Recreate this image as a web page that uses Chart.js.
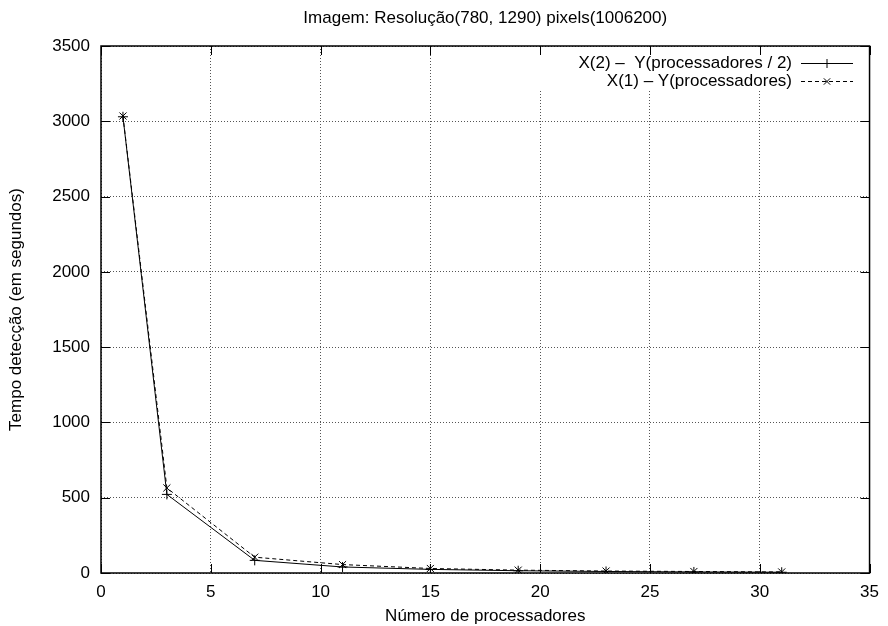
<!DOCTYPE html>
<html>
<head>
<meta charset="utf-8">
<script src="https://cdn.jsdelivr.net/npm/chart.js@4"></script>
<style>
  html, body { margin: 0; padding: 0; background: #fff; }
  #wrap { width: 888px; height: 626px; }
</style>
</head>
<body>
<div id="wrap"><canvas id="chart" width="888" height="626"></canvas></div>
<script>
// values
const processors = [1, 3, 7, 11, 15, 19, 23, 27, 31];
const timeHalf = [3030, 522, 84, 40, 24, 15, 10, 7, 5];     // X(2) - Y(processadores / 2)
const timeFull = [3035, 565, 105, 56, 30, 19, 13, 10, 7];   // X(1) - Y(processadores)
const xTicks = [0, 5, 10, 15, 20, 25, 30, 35];
const yTicks = [0, 500, 1000, 1500, 2000, 2500, 3000, 3500];

const titleText = 'Imagem: Resolução(780, 1290) pixels(1006200)';
const seriesLabels = ['X(2) \u2013  Y(processadores / 2)', 'X(1) \u2013 Y(processadores)'];
const FONT = '"Liberation Sans", Arial, sans-serif';
const FS = 17;

const toPoints = ys => processors.map((x, i) => ({ x: x, y: ys[i] }));

// gnuplot look: blank key area, inward mirrored ticks, title, key
const gnuplotStyle = {
    id: 'gnuplotStyle',
    beforeDatasetsDraw(chart) {
        const ctx = chart.ctx, a = chart.chartArea;
        ctx.save();
        ctx.fillStyle = '#fff';
        ctx.fillRect(a.right - 372, a.top + 1, 371, 43);
        ctx.restore();
    },
    afterDraw(chart) {
        const ctx = chart.ctx, a = chart.chartArea;
        const xs = chart.scales.x, ys = chart.scales.y;
        ctx.save();
        ctx.strokeStyle = '#000';
        ctx.lineWidth = 1;
        ctx.beginPath();
        xTicks.forEach(v => {
            const px = Math.round(xs.getPixelForValue(v)) + 0.5;
            ctx.moveTo(px, a.bottom); ctx.lineTo(px, a.bottom - 9);
            ctx.moveTo(px, a.top); ctx.lineTo(px, a.top + 9);
        });
        yTicks.forEach(v => {
            const py = Math.round(ys.getPixelForValue(v)) + 0.5;
            ctx.moveTo(a.left, py); ctx.lineTo(a.left + 9, py);
            ctx.moveTo(a.right, py); ctx.lineTo(a.right - 9, py);
        });
        ctx.stroke();
        ctx.lineWidth = 1.5;
        ctx.strokeRect(a.left, a.top, a.right - a.left, a.bottom - a.top);

        // title
        ctx.fillStyle = '#000';
        ctx.font = FS + 'px ' + FONT;
        ctx.textAlign = 'center';
        ctx.textBaseline = 'middle';
        ctx.fillText(titleText, (a.left + a.right) / 2, 18);

        // key
        const rows = [
            { text: seriesLabels[0], dash: [], style: 'cross', y: 63 },
            { text: seriesLabels[1], dash: [4, 3], style: 'crossRot', y: 81 }
        ];
        rows.forEach(r => {
            ctx.textAlign = 'right';
            ctx.fillText(r.text, 792, r.y);
            ctx.lineWidth = 1;
            ctx.setLineDash(r.dash);
            ctx.beginPath();
            ctx.moveTo(801, r.y + 0.5); ctx.lineTo(853, r.y + 0.5);
            ctx.stroke();
            ctx.setLineDash([]);
            Chart.helpers.drawPoint(ctx, { pointStyle: r.style, radius: 4.5, borderWidth: 1 }, 827, r.y + 0.5);
        });
        ctx.restore();
    }
};

new Chart(document.getElementById('chart').getContext('2d'), {
    type: 'line',
    data: {
        datasets: [
            {
                label: seriesLabels[0],
                data: toPoints(timeHalf),
                borderColor: '#000',
                backgroundColor: '#000',
                borderWidth: 1,
                pointStyle: 'cross',
                pointRadius: 5,
                pointBorderWidth: 1,
                fill: false,
                tension: 0
            },
            {
                label: seriesLabels[1],
                data: toPoints(timeFull),
                borderColor: '#000',
                backgroundColor: '#000',
                borderWidth: 1,
                borderDash: [4, 3],
                pointStyle: 'crossRot',
                pointRadius: 5,
                pointBorderWidth: 1,
                fill: false,
                tension: 0
            }
        ]
    },
    options: {
        responsive: false,
        animation: false,
        layout: { padding: { top: 46, right: 16, left: 0, bottom: 0 } },
        plugins: {
            legend: { display: false },
            title: { display: false },
            tooltip: { enabled: false }
        },
        scales: {
            x: {
                type: 'linear',
                min: 0,
                max: 35,
                afterFit: s => { s.height = 53; },
                afterBuildTicks: s => { s.ticks = xTicks.map(v => ({ value: v })); },
                border: { display: false, dash: [1, 2] },
                grid: { color: '#555', drawTicks: false, lineWidth: 1 },
                ticks: { color: '#000', font: { family: FONT, size: FS }, padding: 9, maxRotation: 0,
                         callback: v => String(v) },
                title: {
                    display: true,
                    text: 'Número de processadores',
                    color: '#000',
                    font: { family: FONT, size: FS },
                    padding: { top: 2, bottom: -1 }
                }
            },
            y: {
                type: 'linear',
                min: 0,
                max: 3500,
                afterFit: s => { s.width = 101; },
                afterBuildTicks: s => { s.ticks = yTicks.map(v => ({ value: v })); },
                border: { display: false, dash: [1, 2] },
                grid: { color: '#555', drawTicks: false, lineWidth: 1 },
                ticks: { color: '#000', font: { family: FONT, size: FS }, padding: 11,
                         callback: v => String(v) },
                title: {
                    display: true,
                    text: 'Tempo detecção (em segundos)',
                    color: '#000',
                    font: { family: FONT, size: FS },
                    padding: { top: 6, bottom: 4 }
                }
            }
        }
    },
    plugins: [gnuplotStyle]
});
</script>
</body>
</html>
